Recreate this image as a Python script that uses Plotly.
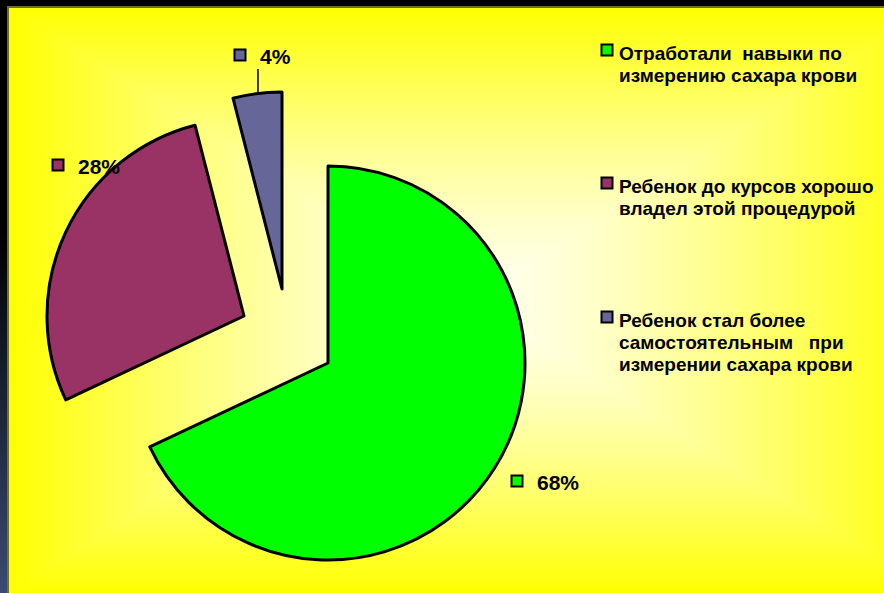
import base64, struct, zlib
import numpy as np
import plotly.graph_objects as go

# ---------------- data ----------------
categories = [
    "Отработали навыки по измерению сахара крови",
    "Ребенок до курсов хорошо владел этой процедурой",
    "Ребенок стал более самостоятельным при измерении сахара крови",
]
legend_lines = [
    ["Отработали  навыки по", "измерению сахара крови"],
    ["Ребенок до курсов хорошо", "владел этой процедурой"],
    ["Ребенок стал более", "самостоятельным   при", "измерении сахара крови"],
]
values = [68, 28, 4]
colors = ["#00FF00", "#993366", "#666699"]

# ---------------- layout constants ----------------
W, H = 884, 593
R = 197
slice_centers = [(328, 363), (244, 316), (282, 289)]
label_pos = [(517, 481), (58, 165), (240, 55)]        # square positions for value labels
legend_square = [(607, 50), (607, 183), (607, 317)]
legend_text_x = 617
LINE = 22.3


def png_bytes(arr):
    h, w, _ = arr.shape
    raw = b"".join(b"\x00" + arr[y].tobytes() for y in range(h))

    def chunk(t, d):
        c = struct.pack(">I", len(d)) + t + d
        return c + struct.pack(">I", zlib.crc32(t + d) & 0xFFFFFFFF)

    return (b"\x89PNG\r\n\x1a\n"
            + chunk(b"IHDR", struct.pack(">IIBBBBB", w, h, 8, 2, 0, 0, 0))
            + chunk(b"IDAT", zlib.compress(raw, 9))
            + chunk(b"IEND", b""))


# background: black frame, blue-ish left strip, rectangular yellow gradient
img = np.zeros((H, W, 3), dtype=np.float64)
yy, xx = np.mgrid[0:H, 0:W]
s = np.clip((yy - 230) / (H - 230), 0, 1)
strip = np.stack([58 * s, 76 * s, 116 * s], axis=-1)
mask_strip = xx < 7
img[mask_strip] = strip[mask_strip]
border = ((xx >= 7) & (xx < 9) & (yy >= 6)) | ((yy >= 6) & (yy < 8) & (xx >= 7))
img[border] = (110, 110, 45)
cx, cy = 470, 300
hw = max(cx - 9, W - cx)
hh = max(cy - 8, H - cy)
t = np.maximum(np.abs(xx - cx) / hw, np.abs(yy - cy) / hh)
f = np.clip(t, 0, 1) ** 1.4
inner = (xx >= 9) & (yy >= 8)
grad = np.stack([np.full_like(f, 255), np.full_like(f, 255), 240 * (1 - f)], axis=-1)
img[inner] = grad[inner]
img = np.clip(img, 0, 255).astype(np.uint8)
bg_src = "data:image/png;base64," + base64.b64encode(png_bytes(img)).decode()

fig = go.Figure()

n = len(values)
for i in range(n):
    cxp, cyp = slice_centers[i]
    slice_colors = [colors[j] if j == i else "rgba(0,0,0,0)" for j in range(n)]
    line_colors = ["#000000" if j == i else "rgba(0,0,0,0)" for j in range(n)]
    fig.add_trace(go.Pie(
        labels=categories,
        values=values,
        sort=False,
        direction="clockwise",
        rotation=0,
        marker=dict(colors=slice_colors, line=dict(color=line_colors, width=3)),
        textinfo="none",
        hoverinfo="skip",
        showlegend=False,
        domain=dict(x=[(cxp - R) / W, (cxp + R) / W],
                    y=[1 - (cyp + R) / H, 1 - (cyp - R) / H]),
    ))

fig.add_trace(go.Scatter(
    x=[p[0] for p in label_pos] + [p[0] for p in legend_square],
    y=[p[1] for p in label_pos] + [p[1] for p in legend_square],
    mode="markers",
    marker=dict(symbol="square", size=11, color=colors + colors,
                line=dict(color="black", width=2)),
    hoverinfo="skip",
    showlegend=False,
))

annotations = []
for i in range(n):
    px, py = label_pos[i]
    annotations.append(dict(
        x=px + 18, y=py + 1, xref="x", yref="y", text=f"{values[i]}%",
        showarrow=False, xanchor="left", yanchor="middle",
        font=dict(family="Liberation Sans, Arial, sans-serif", size=21,
                  color="black", weight="bold"),
    ))
for i in range(n):
    sx, sy = legend_square[i]
    lines = [l.replace(" ", "\u00a0") for l in legend_lines[i]]
    for k, l in enumerate(lines):
        annotations.append(dict(
            x=legend_text_x, y=sy + 3 + k * LINE, xref="x", yref="y", text=l,
            showarrow=False, xanchor="left", yanchor="middle",
            font=dict(family="Liberation Sans, Arial, sans-serif", size=19,
                      color="black", weight="bold"),
        ))

shapes = [dict(type="line", xref="x", yref="y", x0=258, x1=258, y0=69, y1=93,
               line=dict(color="black", width=1.5))]

fig.update_layout(
    width=W, height=H,
    margin=dict(l=0, r=0, t=0, b=0),
    paper_bgcolor="black",
    plot_bgcolor="rgba(0,0,0,0)",
    xaxis=dict(range=[0, W], visible=False, fixedrange=True),
    yaxis=dict(range=[H, 0], visible=False, fixedrange=True),
    images=[dict(source=bg_src, xref="paper", yref="paper", x=0, y=1,
                 sizex=1, sizey=1, xanchor="left", yanchor="top",
                 sizing="stretch", layer="below")],
    annotations=annotations,
    shapes=shapes,
    showlegend=False,
)

fig.write_html("out.html", config={"displayModeBar": False},
               post_script="document.body.style.margin='0';document.body.style.background='black';")
